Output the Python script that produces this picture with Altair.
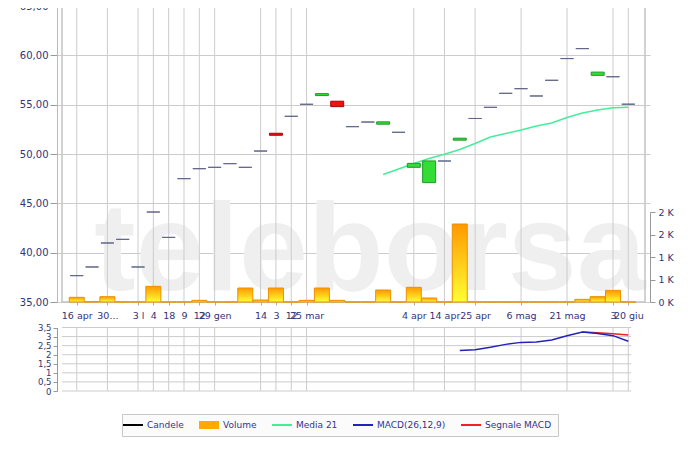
import altair as alt
import pandas as pd

# ---------------- data ----------------
idx = list(range(37))
opens = [37.67, 38.55, 40.98, 41.35, 38.55, 44.12, 41.55, 47.50, 48.51, 48.65,
         49.02, 48.65, 50.30, 52.10, 53.82, 55.04, 55.92, 55.35, 52.77, 53.24,
         53.02, 52.20, 48.65, 47.10, 49.29, 51.40, 53.60, 54.73, 56.15, 56.62,
         55.88, 57.47, 59.67, 60.68, 57.97, 57.83, 55.05]
closes = [37.67, 38.55, 40.98, 41.35, 38.55, 44.12, 41.55, 47.50, 48.51, 48.65,
          49.02, 48.65, 50.30, 51.90, 53.82, 55.04, 56.12, 54.80, 52.77, 53.24,
          53.26, 52.20, 49.05, 49.30, 49.29, 51.60, 53.60, 54.73, 56.15, 56.62,
          55.88, 57.47, 59.67, 60.68, 58.30, 57.83, 55.05]
volumes = [104, 5, 118, 0, 0, 348, 0, 0, 37, 0,
           0, 311, 44, 311, 0, 37, 311, 37, 0, 0,
           267, 0, 326, 89, 0, 1733, 0, 0, 0, 0,
           0, 0, 0, 59, 119, 259, 0]

ma_idx = list(range(20, 37))
ma21 = [47.92, 48.48, 49.04, 49.54, 49.97, 50.46, 51.06, 51.72, 52.08, 52.43,
        52.84, 53.14, 53.70, 54.16, 54.46, 54.69, 54.73]

macd_idx = list(range(25, 37))
macd = [2.23, 2.28, 2.41, 2.57, 2.68, 2.70, 2.81, 3.05, 3.25, 3.17, 3.05, 2.74]
sig_idx = list(range(33, 37))
signal = [3.25, 3.21, 3.15, 3.09]

grid_idx = [0, 2, 4, 5, 6, 7, 8, 9, 12, 13, 14, 15, 22, 24, 26, 29, 32, 35, 36]
x_labels = ["16 apr", "30...", "3 l", "4", "18", "9", "12", "29 gen", "14", "3",
            "12", "25 mar", "4 apr", "14 apr", "25 apr", "6 mag", "21 mag", "3", "20 giu"]

price_ticks = [35, 40, 45, 50, 55, 60, 65]
vol_ticks = [0, 500, 1000, 1500, 2000]
macd_ticks = [0, 0.5, 1, 1.5, 2, 2.5, 3, 3.5]

legend_names = ["Candele", "Volume", "Media 21", "MACD(26,12,9)", "Segnale MACD"]
legend_colors = ["#000000", "#ffaa00", "#44ee99", "#2222bb", "#ee2222"]
LINE_SYM = "M-2,-0.2H2V0.2H-2Z"
BOX_SYM = "M-2,-0.8H2V0.8H-2Z"
legend_shapes = [LINE_SYM, BOX_SYM, LINE_SYM, LINE_SYM, LINE_SYM]

# ---------------- layout constants ----------------
W, H = 593, 386
X_DOMAIN = [-0.963, 37.09]
MACD_RIGHT = 36.19
FONT = "DejaVu Sans"
NAVY = "#333377"
GRID = "#cccccc"

xscale = alt.Scale(domain=X_DOMAIN, nice=False, zero=False)
xlabel_expr = ("[" + ",".join("'%s'" % s for s in x_labels) + "][indexof(["
               + ",".join(str(v) for v in grid_idx) + "], datum.value)]")
xaxis = alt.Axis(values=grid_idx, labelExpr=xlabel_expr, title=None, grid=False,
                 domain=False, ticks=True, tickSize=3, tickColor="#aaaaaa",
                 labelPadding=5, labelFont=FONT, labelFontSize=9.5, labelColor=NAVY,
                 labelOverlap=False, labelBound=False, labelFlush=False, offset=-90)


def X(field):
    return alt.X(field, type="quantitative", scale=xscale, axis=xaxis)


price_scale = alt.Scale(domain=[35, 65], range=[296, 0], nice=False, zero=False)
price_axis = alt.Axis(values=price_ticks, title=None, orient="left", grid=True,
                      gridColor=GRID, domainColor="#bbbbbb", tickColor="#999999",
                      tickSize=7, labelPadding=2, labelFont=FONT, labelFontSize=10,
                      labelColor=NAVY,
                      labelExpr="replace(format(datum.value, '.2f'), '.', ',')")

vol_scale = alt.Scale(domain=[0, 2000], range=[296, 206], nice=False, zero=False)
vol_axis = alt.Axis(values=vol_ticks, title=None, orient="right", grid=False,
                    domainColor="#999999", tickColor="#999999", tickSize=5,
                    labelPadding=3, labelFont=FONT, labelFontSize=9.5, labelColor=NAVY,
                    labelOverlap=False, labelBound=False,
                    labelExpr="format(round(datum.value / 1000), 'd') + ' K'")

macd_scale = alt.Scale(domain=[0, 3.5], range=[385, 321.5], nice=False, zero=False)
macd_axis = alt.Axis(values=macd_ticks, title=None, orient="left", grid=False,
                     domainColor="#999999", tickColor="#999999", tickSize=4,
                     labelPadding=2, labelFont=FONT, labelFontSize=8.5, labelColor=NAVY,
                     labelOverlap=False, labelBound=False,
                     labelExpr="replace(toString(datum.value), '.', ',')")

legend = alt.Legend(
    orient="none", legendX=65, legendY=408, direction="horizontal", title=None,
    symbolSize=100, symbolOpacity=1, symbolStrokeWidth=0,
    labelFont=FONT, labelFontSize=9, labelColor="#333399", labelOffset=9,
    columnPadding=15, padding=6, strokeColor="#c8c8c8", fillColor="#fbfbfb",
)

# ---------------- tables ----------------
candles = pd.DataFrame({"i": idx, "open": opens, "close": closes, "vol": volumes})
candles["kind"] = ["up" if c > o else ("down" if c < o else "flat")
                   for o, c in zip(opens, closes)]
candles["zero"] = 0
grid_df = pd.DataFrame({"i": grid_idx, "plo": 35, "phi": 65, "mlo": 0.0, "mhi": 3.5})
frame_df = pd.DataFrame({"x0": [X_DOMAIN[0]], "x1": [X_DOMAIN[1]], "p0": [35], "p1": [65]})
ma_df = pd.DataFrame({"i": ma_idx, "v": ma21})
macd_df = pd.DataFrame({"i": macd_idx, "v": macd})
sig_df = pd.DataFrame({"i": sig_idx, "v": signal})
mgrid_df = pd.DataFrame({"x0": X_DOMAIN[0], "x1": MACD_RIGHT, "m": macd_ticks})
legend_df = pd.DataFrame({"series": legend_names})

# ---------------- price panel ----------------
watermark = alt.Chart(pd.DataFrame({"t": ["teleborsa"]})).mark_text(
    font="Liberation Sans", fontWeight="bold", fontSize=124,
    color="#efefef", align="center", baseline="alphabetic"
).encode(x=alt.value(313), y=alt.value(284), text="t:N")

vgrid = alt.Chart(grid_df).mark_rule(color=GRID, strokeWidth=1).encode(
    x=X("i"), y=alt.Y("plo:Q", scale=price_scale, axis=price_axis), y2="phi:Q")

frame = alt.Chart(frame_df).mark_rect(fill="transparent", stroke="#c4c4c4",
                                      strokeWidth=1.5).encode(
    x=X("x0"), x2="x1:Q", y=alt.Y("p0:Q", scale=price_scale, axis=price_axis), y2="p1:Q")

ma_line = alt.Chart(ma_df).mark_line(strokeWidth=1.5, color=legend_colors[2]).encode(
    x=X("i"), y=alt.Y("v:Q", scale=price_scale, axis=price_axis))

candle_bars = alt.Chart(candles).mark_bar(size=13, strokeWidth=1).encode(
    x=X("i"), y=alt.Y("open:Q", scale=price_scale, axis=price_axis), y2="close:Q",
    fill=alt.Fill("kind:N", scale=alt.Scale(domain=["up", "down", "flat"],
                                             range=["#33dd33", "#ee1111", "#ffffff"]),
                  legend=None),
    stroke=alt.Stroke("kind:N", scale=alt.Scale(domain=["up", "down", "flat"],
                                                 range=["#1f9a2a", "#aa0000", "#5f6688"]),
                      legend=None))

price_panel = alt.layer(watermark, vgrid, frame, ma_line, candle_bars)

# ---------------- volume ----------------
vol_bars = alt.Chart(candles).mark_bar(
    size=15, stroke="#ee9000", strokeWidth=1,
    fill=alt.Gradient(gradient="linear", x1=0, y1=0, x2=0, y2=1,
                      stops=[alt.GradientStop(offset=0, color="#ff9900"),
                             alt.GradientStop(offset=1, color="#ffff33")])
).encode(x=X("i"), y=alt.Y("vol:Q", scale=vol_scale, axis=vol_axis), y2="zero:Q")

# ---------------- MACD panel ----------------
mgrid_h = alt.Chart(mgrid_df).mark_rule(color=GRID, strokeWidth=1).encode(
    x=X("x0"), x2="x1:Q", y=alt.Y("m:Q", scale=macd_scale, axis=macd_axis))
mgrid_v = alt.Chart(grid_df).mark_rule(color=GRID, strokeWidth=1).encode(
    x=X("i"), y=alt.Y("mlo:Q", scale=macd_scale, axis=macd_axis), y2="mhi:Q")
sig_line = alt.Chart(sig_df).mark_line(strokeWidth=1.5, color=legend_colors[4]).encode(
    x=X("i"), y=alt.Y("v:Q", scale=macd_scale, axis=macd_axis))
macd_line = alt.Chart(macd_df).mark_line(strokeWidth=1.5, color=legend_colors[3]).encode(
    x=X("i"), y=alt.Y("v:Q", scale=macd_scale, axis=macd_axis))
macd_panel = alt.layer(mgrid_h, mgrid_v, sig_line, macd_line)

# ---------------- legend (legend-only layer, no marks drawn) ----------------
legend_layer = alt.Chart(legend_df).transform_filter("false").mark_point(
    filled=True, opacity=1).encode(
    color=alt.Color("series:N", scale=alt.Scale(domain=legend_names, range=legend_colors),
                    legend=legend),
    shape=alt.Shape("series:N", scale=alt.Scale(domain=legend_names, range=legend_shapes),
                    legend=legend),
)

chart = alt.layer(price_panel, vol_bars, macd_panel, legend_layer).resolve_scale(
    y="independent"
).properties(
    width=W, height=H,
    padding={"left": 49, "top": -2, "right": 42, "bottom": 46},
    autosize=alt.AutoSizeParams(type="none"),
    background="#ffffff",
).configure_view(stroke=None)

chart.save("out.html", embed_options={"renderer": "svg", "actions": False})
